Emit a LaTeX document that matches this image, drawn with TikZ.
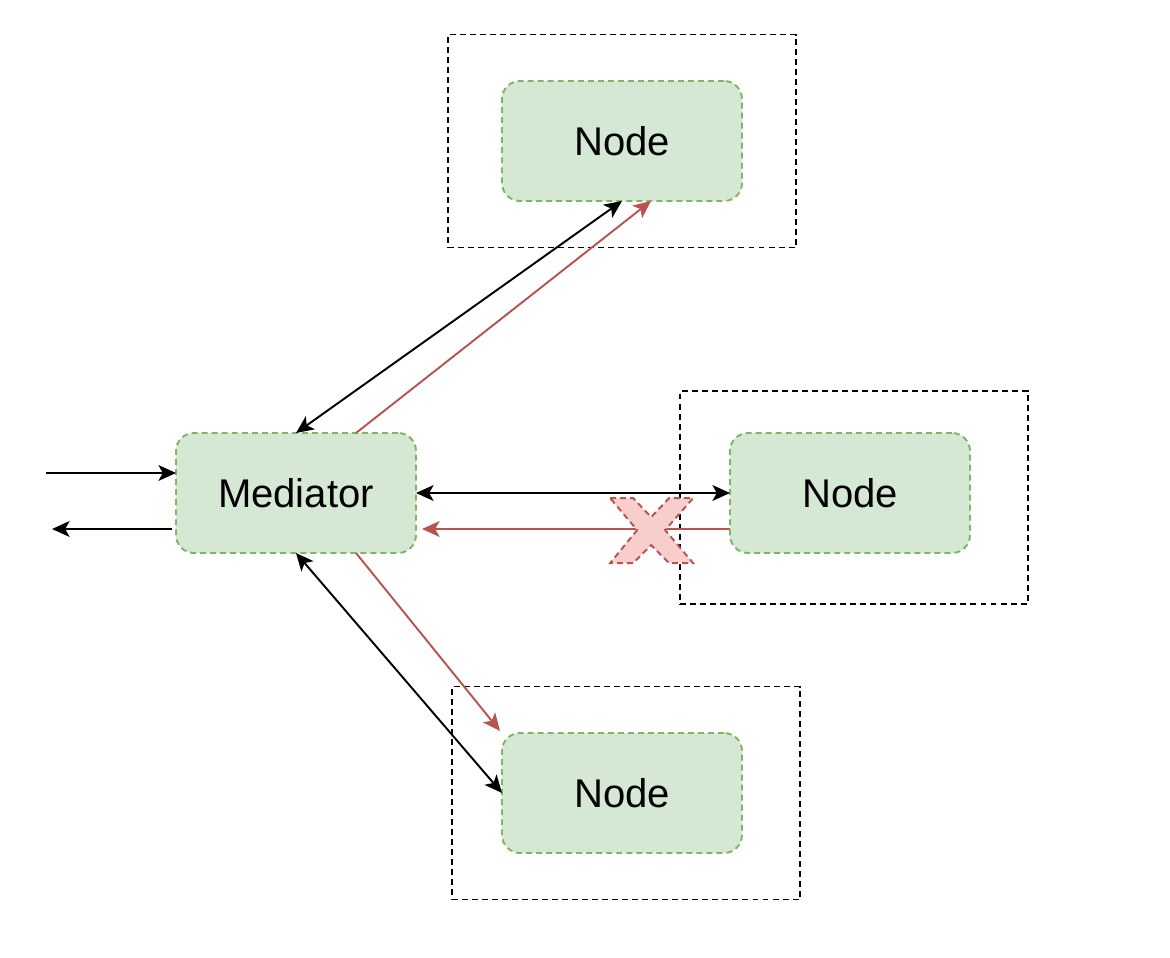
\documentclass[tikz,border=0pt]{standalone}
\usepackage{xcolor}
\usepackage{fontspec}
\setmainfont{Liberation Sans}
\usepackage{tikz}
\usetikzlibrary{shapes.geometric, arrows, arrows.meta, positioning}
\definecolor{NodeGreen}{HTML}{D5E8D4}
\definecolor{NodeBorder}{HTML}{82B366}
\definecolor{FailRed}{HTML}{B85450}
\definecolor{FailPink}{HTML}{F8CECC}
\tikzstyle{arrow} = [line width=1.1pt,-{Stealth[length=10pt,width=9pt,inset=2.5pt]}]
\tikzstyle{biarrow} = [line width=1.1pt,{Stealth[length=10pt,width=9pt,inset=2.5pt]}-{Stealth[length=10pt,width=9pt,inset=2.5pt]}]
\tikzstyle{failarrow} = [line width=1.1pt,draw=FailRed,-{Stealth[length=10pt,width=9pt,inset=2.5pt]},FailRed]
\tikzstyle{peer} = [rectangle, rounded corners=0.36cm, minimum width=4.8cm, minimum height=2.4cm, text centered, draw=NodeBorder, line width=1.1pt, dash pattern=on 3.4pt off 2.3pt, fill=NodeGreen, outer sep=0pt, font=\fontsize{22.8}{27}\selectfont]
\tikzstyle{host} = [rectangle, draw=black, line width=1.1pt, dash pattern=on 3.4pt off 2.3pt, minimum width=6.96cm, minimum height=4.26cm]

\begin{document}
\begin{tikzpicture}
      \useasboundingbox (0,0) rectangle (23.4,-19.16);
      \node (mediator) [peer] at (5.92,-9.86) {Mediator};
      \node (top) [peer, above right=4.64cm and 1.72cm of mediator] {Node};
      \node (right) [peer, right=6.28cm of mediator] {Node};
      \node (bottom) [peer, below right=3.6cm and 1.72cm of mediator] {Node};
      \node (top_host) [host] at (top.center) {};
      \node (right_host) [host, xshift=0.08cm, yshift=-0.09cm] at (right.center) {};
      \node (bottom_host) [host, xshift=0.08cm] at (bottom.center) {};
      \coordinate (in) at ([xshift=-2.6cm, yshift=0.4cm]mediator.west);
      \coordinate (out) at ([xshift=-2.48cm, yshift=-0.72cm]mediator.west);
      \draw [arrow] (in) -- (in -| mediator.west);
      \draw [arrow] ([xshift=-0.08cm]out -| mediator.west) -- (out);
      \draw [biarrow] (mediator.north) -- (top.south);
      \draw [failarrow] ([xshift=1.2cm]mediator.north) -- ([xshift=0.58cm]top.south);
      \draw [biarrow] (mediator.east) -- (right.west);
      \draw [failarrow] ([yshift=-0.72cm]right.west) -- ([xshift=0.12cm, yshift=-0.72cm]mediator.east);
      \draw [biarrow] (mediator.south) -- (bottom.west);
      \draw [failarrow] ([xshift=1.2cm]mediator.south) -- ([xshift=-0.04cm, yshift=0.04cm]bottom.north west);
      \begin{scope}[x=0.02cm, y=-0.02cm]
        \draw [fill=FailPink, draw=FailRed, line width=1.1pt, dash pattern=on 3.4pt off 2.3pt]
          (610,498) -- (633,498) -- (651,517) -- (669,498) -- (693,498) -- (665,530) -- (693,563)
          -- (669,563) -- (651,545) -- (633,563) -- (610,563) -- (637,530) -- cycle;
      \end{scope}
\end{tikzpicture}
\end{document}
